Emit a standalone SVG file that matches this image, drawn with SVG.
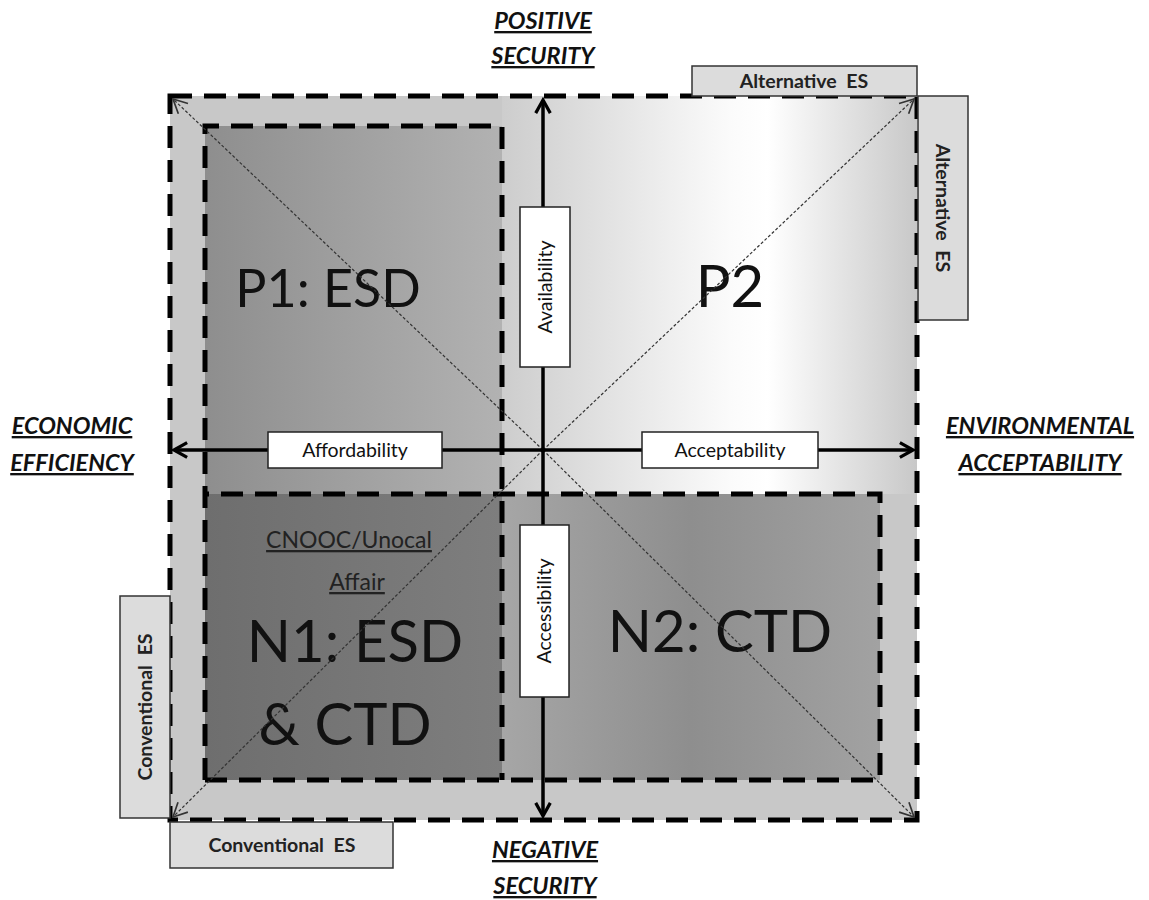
<svg xmlns="http://www.w3.org/2000/svg" width="1149" height="900" viewBox="0 0 1149 900">
<style>
.dash{fill:none;stroke:#000;stroke-width:5;stroke-dasharray:22 12}
.diag{fill:none;stroke:#333;stroke-width:1.2;stroke-dasharray:3 2}
.axis{fill:none;stroke:#000;stroke-width:3.5}
.axlab{font-family:Lato,"Open Sans",sans-serif;font-weight:bold;font-style:italic;font-size:23.5px;text-decoration:underline;text-anchor:middle;fill:#111}
.box{fill:#fff;stroke:#222;stroke-width:1.5}
.gbox{fill:#dcdcdc;stroke:#333;stroke-width:1.5}
.blab{font-family:Lato,"Open Sans",sans-serif;font-size:19.5px;text-anchor:middle;fill:#111}
.glab{font-family:Lato,"Open Sans",sans-serif;font-size:19.5px;font-weight:bold;text-anchor:middle;fill:#222;word-spacing:5px}
.big{font-family:Lato,"Open Sans",sans-serif;font-size:58px;text-anchor:middle;fill:#111}
.mid{font-family:Lato,"Open Sans",sans-serif;font-size:23px;text-anchor:middle;fill:#222;text-decoration:underline}
</style>
<defs>
<linearGradient id="gP2" x1="0" y1="0" x2="1" y2="0">
<stop offset="0" stop-color="#cdcdcd"/>
<stop offset="0.55" stop-color="#fbfbfb"/>
<stop offset="0.64" stop-color="#ffffff"/>
<stop offset="1" stop-color="#c8c8c8"/>
</linearGradient>
<linearGradient id="gP1" x1="0" y1="0" x2="1" y2="0">
<stop offset="0" stop-color="#8e8e8e"/>
<stop offset="1" stop-color="#b2b2b2"/>
</linearGradient>
<linearGradient id="gN1" x1="0" y1="0" x2="1" y2="0">
<stop offset="0" stop-color="#6e6e6e"/>
<stop offset="1" stop-color="#7e7e7e"/>
</linearGradient>
<linearGradient id="gN2" x1="0" y1="0" x2="1" y2="0">
<stop offset="0" stop-color="#a6a6a6"/>
<stop offset="0.5" stop-color="#8e8e8e"/>
<stop offset="1" stop-color="#a2a2a2"/>
</linearGradient>
<marker id="ax" viewBox="0 0 12 12" refX="10" refY="6" markerWidth="5" markerHeight="5" orient="auto-start-reverse" markerUnits="strokeWidth">
<path d="M1,1 L10,6 L1,11" fill="none" stroke="#000" stroke-width="2.2"/>
</marker>
<marker id="dg" viewBox="0 0 12 12" refX="11" refY="6" markerWidth="14" markerHeight="14" orient="auto-start-reverse" markerUnits="strokeWidth">
<path d="M1,1 L11,6 L1,11" fill="none" stroke="#333" stroke-width="1.2"/>
</marker>
</defs>
<rect width="1149" height="900" fill="#fff"/>

<g id="background">
<rect x="170" y="96" width="747" height="724" fill="#c8c8c8"/>
<rect x="502" y="96" width="415" height="398" fill="url(#gP2)"/>
</g>

<g id="P1">
<rect x="205" y="126" width="297" height="368" fill="url(#gP1)"/>
<text class="big" x="328" y="307" style="font-size:52px">P1: ESD</text>
</g>
<g id="P2">
<text class="big" x="730" y="307">P2</text>
</g>
<g id="N1">
<rect x="205" y="494" width="297" height="286" fill="url(#gN1)"/>
<text class="mid" x="349" y="548">CNOOC/Unocal</text>
<text class="mid" x="357" y="590">Affair</text>
<text class="big" x="355" y="662">N1: ESD</text>
<text class="big" x="345" y="745">&amp; CTD</text>
</g>
<g id="N2">
<rect x="502" y="494" width="378" height="286" fill="url(#gN2)"/>
<text class="big" x="720" y="652">N2: CTD</text>
</g>

<g id="borders">
<rect class="dash" x="170" y="96" width="747" height="724"/>
<path class="dash" d="M205,780 L205,126 L502,126 L502,780"/>
<path class="dash" d="M205,780 L880,780 L880,494 L205,494"/>
</g>

<g id="connectors">
<line class="diag" x1="543" y1="450" x2="173" y2="99" marker-end="url(#dg)"/>
<line class="diag" x1="543" y1="450" x2="914" y2="99" marker-end="url(#dg)"/>
<line class="diag" x1="543" y1="450" x2="173" y2="817" marker-end="url(#dg)"/>
<line class="diag" x1="543" y1="450" x2="914" y2="817" marker-end="url(#dg)"/>
<line class="axis" x1="543" y1="100" x2="543" y2="816" marker-start="url(#ax)" marker-end="url(#ax)"/>
<line class="axis" x1="174" y1="450" x2="913" y2="450" marker-start="url(#ax)" marker-end="url(#ax)"/>
</g>

<g id="availability">
<rect class="box" x="520" y="207" width="50" height="160"/>
<text class="blab" transform="translate(552,287) rotate(-90)">Availability</text>
</g>
<g id="accessibility">
<rect class="box" x="520" y="525" width="49" height="172"/>
<text class="blab" transform="translate(551,611) rotate(-90)">Accessibility</text>
</g>
<g id="affordability">
<rect class="box" x="268" y="432" width="174" height="36"/>
<text class="blab" x="355" y="457">Affordability</text>
</g>
<g id="acceptability">
<rect class="box" x="642" y="432" width="176" height="36"/>
<text class="blab" x="730" y="457">Acceptability</text>
</g>

<g id="alt-es-top">
<rect class="gbox" x="692" y="66" width="225" height="30"/>
<text class="glab" x="804" y="88">Alternative ES</text>
</g>
<g id="alt-es-right">
<rect class="gbox" x="918" y="96" width="50" height="224"/>
<text class="glab" transform="translate(936,208) rotate(90)">Alternative ES</text>
</g>
<g id="conv-es-left">
<rect class="gbox" x="120" y="596" width="50" height="222"/>
<text class="glab" transform="translate(152,707) rotate(-90)">Conventional ES</text>
</g>
<g id="conv-es-bottom">
<rect class="gbox" x="170" y="822" width="223" height="46"/>
<text class="glab" x="282" y="852">Conventional ES</text>
</g>

<g id="axis-labels">
<text class="axlab" x="543" y="29">POSITIVE</text>
<text class="axlab" x="543" y="64">SECURITY</text>
<text class="axlab" x="72" y="434">ECONOMIC</text>
<text class="axlab" x="72" y="471">EFFICIENCY</text>
<text class="axlab" x="1040" y="434">ENVIRONMENTAL</text>
<text class="axlab" x="1040" y="471">ACCEPTABILITY</text>
<text class="axlab" x="545" y="858">NEGATIVE</text>
<text class="axlab" x="545" y="894">SECURITY</text>
</g>
</svg>
